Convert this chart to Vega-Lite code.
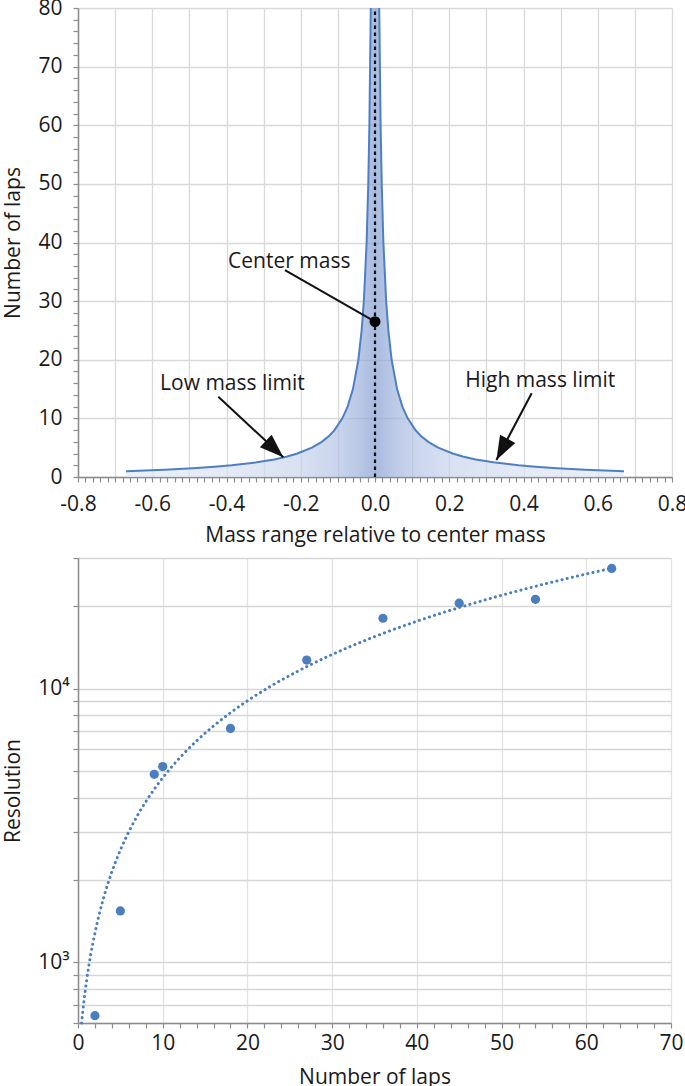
{
  "$schema": "https://vega.github.io/schema/vega-lite/v6.json",
  "padding": {"left": 2, "top": -3, "right": 0, "bottom": 0},
  "background": "white",
  "spacing": 2,
  "config": {
    "view": {"stroke": null},
    "font": "Open Sans",
    "axis": {
      "labelFont": "Open Sans",
      "titleFont": "Open Sans",
      "labelFontSize": 21,
      "titleFontSize": 21,
      "titleFontWeight": "normal",
      "labelColor": "#1a1a1a",
      "titleColor": "#1a1a1a",
      "domainColor": "#8c8c8c",
      "domainWidth": 1.5,
      "tickColor": "#8c8c8c",
      "tickWidth": 1.2,
      "tickSize": 5,
      "tickCount": 200,
      "gridColor": "#d9d9d9",
      "gridWidth": 1.3,
      "labelOverlap": false,
      "labelFlush": false
    },
    "text": {"font": "Open Sans", "fontSize": 21, "color": "#1a1a1a"}
  },
  "datasets": {
    "curve": [
      {"m": -0.6706, "laps": 1}, {"m": -0.5665, "laps": 1.25}, {"m": -0.4903, "laps": 1.5},
      {"m": -0.4322, "laps": 1.75}, {"m": -0.3864, "laps": 2}, {"m": -0.3189, "laps": 2.5},
      {"m": -0.2714, "laps": 3}, {"m": -0.2363, "laps": 3.5}, {"m": -0.2092, "laps": 4},
      {"m": -0.1701, "laps": 5}, {"m": -0.1434, "laps": 6}, {"m": -0.1239, "laps": 7},
      {"m": -0.1091, "laps": 8}, {"m": -0.088, "laps": 10}, {"m": -0.0738, "laps": 12},
      {"m": -0.0594, "laps": 15}, {"m": -0.0448, "laps": 20}, {"m": -0.036, "laps": 25},
      {"m": -0.03, "laps": 30}, {"m": -0.0226, "laps": 40}, {"m": -0.0181, "laps": 50},
      {"m": -0.0151, "laps": 60}, {"m": -0.01135, "laps": 80}, {"m": -0.00909, "laps": 100},
      {"m": -0.00607, "laps": 150},
      {"m": 0.00607, "laps": 150}, {"m": 0.00909, "laps": 100}, {"m": 0.01135, "laps": 80},
      {"m": 0.0151, "laps": 60}, {"m": 0.0181, "laps": 50}, {"m": 0.0226, "laps": 40},
      {"m": 0.03, "laps": 30}, {"m": 0.036, "laps": 25}, {"m": 0.0448, "laps": 20},
      {"m": 0.0594, "laps": 15}, {"m": 0.0738, "laps": 12}, {"m": 0.088, "laps": 10},
      {"m": 0.1091, "laps": 8}, {"m": 0.1239, "laps": 7}, {"m": 0.1434, "laps": 6},
      {"m": 0.1701, "laps": 5}, {"m": 0.2092, "laps": 4}, {"m": 0.2363, "laps": 3.5},
      {"m": 0.2714, "laps": 3}, {"m": 0.3189, "laps": 2.5}, {"m": 0.3864, "laps": 2},
      {"m": 0.4322, "laps": 1.75}, {"m": 0.4903, "laps": 1.5}, {"m": 0.5665, "laps": 1.25},
      {"m": 0.6706, "laps": 1}
    ],
    "arrows": [
      {"name": "Center mass", "m": -0.2426, "laps": 35.3, "m2": 0, "laps2": 26.5},
      {"name": "Low mass limit", "m": -0.422, "laps": 13.7, "m2": -0.247, "laps2": 3.36},
      {"name": "High mass limit", "m": 0.422, "laps": 14.3, "m2": 0.327, "laps2": 2.9}
    ],
    "labels": [
      {"name": "Center mass", "m": -0.231, "laps": 36.7},
      {"name": "Low mass limit", "m": -0.384, "laps": 15.9},
      {"name": "High mass limit", "m": 0.445, "laps": 16.3}
    ],
    "measured": [
      {"laps": 2, "res": 638}, {"laps": 5, "res": 1540}, {"laps": 9, "res": 4860},
      {"laps": 10, "res": 5190}, {"laps": 18, "res": 7150}, {"laps": 27, "res": 12710},
      {"laps": 36, "res": 18070}, {"laps": 45, "res": 20520}, {"laps": 54, "res": 21190},
      {"laps": 63, "res": 27480}
    ],
    "trend": [
      {"laps": 0.42, "res": 600}, {"laps": 0.7, "res": 720}, {"laps": 1.0, "res": 850},
      {"laps": 1.5, "res": 1065}, {"laps": 2.0, "res": 1280}, {"laps": 2.5, "res": 1495},
      {"laps": 3.0, "res": 1710}, {"laps": 3.5, "res": 1925}, {"laps": 4.0, "res": 2140},
      {"laps": 5.0, "res": 2570}, {"laps": 6.0, "res": 3000}, {"laps": 7.0, "res": 3430},
      {"laps": 8.0, "res": 3860}, {"laps": 9.0, "res": 4290}, {"laps": 10.0, "res": 4720},
      {"laps": 12.0, "res": 5580}, {"laps": 14.0, "res": 6440}, {"laps": 16.0, "res": 7300},
      {"laps": 18.0, "res": 8160}, {"laps": 20.0, "res": 9020}, {"laps": 23.0, "res": 10310},
      {"laps": 26.0, "res": 11600}, {"laps": 30.0, "res": 13320}, {"laps": 35.0, "res": 15470},
      {"laps": 40.0, "res": 17620}, {"laps": 45.0, "res": 19770}, {"laps": 50.0, "res": 21920},
      {"laps": 55.0, "res": 24070}, {"laps": 60.0, "res": 26220}, {"laps": 62.7, "res": 27380}
    ]
  },
  "vconcat": [
    {
      "width": 594,
      "height": 469,
      "layer": [
        {
          "data": {"name": "curve"},
          "mark": {
            "type": "area",
            "clip": true,
            "color": {
              "gradient": "linear",
              "x1": 0, "x2": 1, "y1": 0, "y2": 0,
              "stops": [
                {"offset": 0, "color": "#e1e8f5"},
                {"offset": 0.2, "color": "#d9e1f2"},
                {"offset": 0.35, "color": "#c8d4ec"},
                {"offset": 0.425, "color": "#b1c2e4"},
                {"offset": 0.463, "color": "#9fb3dc"},
                {"offset": 0.485, "color": "#8ea6d6"},
                {"offset": 0.5, "color": "#859fd2"},
                {"offset": 0.515, "color": "#8ea6d6"},
                {"offset": 0.537, "color": "#9fb3dc"},
                {"offset": 0.575, "color": "#b1c2e4"},
                {"offset": 0.65, "color": "#c8d4ec"},
                {"offset": 0.8, "color": "#d9e1f2"},
                {"offset": 1, "color": "#e1e8f5"}
              ]
            },
            "line": {"color": "#4f7fc3", "strokeWidth": 2}
          },
          "encoding": {
            "x": {
              "field": "m",
              "type": "quantitative",
              "scale": {"domain": [-0.8, 0.8], "nice": false},
              "axis": {
                "title": "Mass range relative to center mass",
                "titlePadding": 10,
                "labelPadding": 11,
                "values": [-0.8,-0.78,-0.76,-0.74,-0.72,-0.7,-0.68,-0.66,-0.64,-0.62,-0.6,-0.58,-0.56,-0.54,-0.52,-0.5,-0.48,-0.46,-0.44,-0.42,-0.4,-0.38,-0.36,-0.34,-0.32,-0.3,-0.28,-0.26,-0.24,-0.22,-0.2,-0.18,-0.16,-0.14,-0.12,-0.1,-0.08,-0.06,-0.04,-0.02,0,0.02,0.04,0.06,0.08,0.1,0.12,0.14,0.16,0.18,0.2,0.22,0.24,0.26,0.28,0.3,0.32,0.34,0.36,0.38,0.4,0.42,0.44,0.46,0.48,0.5,0.52,0.54,0.56,0.58,0.6,0.62,0.64,0.66,0.68,0.7,0.72,0.74,0.76,0.78,0.8],
                "labelExpr": "abs(datum.value*5 - round(datum.value*5)) < 0.001 ? (datum.value < -0.001 ? '-' : '') + format(abs(datum.value), '.1f') : ''",
                "gridOpacity": {"condition": {"test": "abs(datum.value*10 - round(datum.value*10)) < 0.001", "value": 1}, "value": 0}
              }
            },
            "y": {
              "field": "laps",
              "type": "quantitative",
              "scale": {"domain": [0, 80], "nice": false},
              "axis": {
                "title": "Number of laps",
                "titlePadding": 14,
                "labelPadding": 11,
                "values": [0,2,4,6,8,10,12,14,16,18,20,22,24,26,28,30,32,34,36,38,40,42,44,46,48,50,52,54,56,58,60,62,64,66,68,70,72,74,76,78,80],
                "labelExpr": "datum.value % 10 == 0 ? datum.value : ''",
                "gridOpacity": {"condition": {"test": "datum.value % 10 == 0", "value": 1}, "value": 0}
              }
            }
          }
        },
        {
          "data": {"values": [{"m": 0, "laps": 0, "laps2": 80}]},
          "mark": {"type": "rule", "color": "#111111", "strokeWidth": 2.2, "strokeDash": [3.5, 3.5]},
          "encoding": {
            "x": {"field": "m", "type": "quantitative"},
            "y": {"field": "laps", "type": "quantitative"},
            "y2": {"field": "laps2"}
          }
        },
        {
          "data": {"name": "arrows"},
          "mark": {"type": "rule", "color": "#111111", "strokeWidth": 2},
          "encoding": {
            "x": {"field": "m", "type": "quantitative"},
            "y": {"field": "laps", "type": "quantitative"},
            "x2": {"field": "m2"},
            "y2": {"field": "laps2"}
          }
        },
        {
          "data": {"name": "arrows"},
          "transform": [{"filter": "datum.name == 'Low mass limit'"}],
          "mark": {"type": "point", "shape": "M0,0L0.36,1L-0.36,1Z", "filled": true, "color": "#111111", "opacity": 1, "size": 2300, "angle": 133},
          "encoding": {
            "x": {"field": "m2", "type": "quantitative"},
            "y": {"field": "laps2", "type": "quantitative"}
          }
        },
        {
          "data": {"name": "arrows"},
          "transform": [{"filter": "datum.name == 'High mass limit'"}],
          "mark": {"type": "point", "shape": "M0,0L0.36,1L-0.36,1Z", "filled": true, "color": "#111111", "opacity": 1, "size": 2300, "angle": 208},
          "encoding": {
            "x": {"field": "m2", "type": "quantitative"},
            "y": {"field": "laps2", "type": "quantitative"}
          }
        },
        {
          "data": {"values": [{"m": 0, "laps": 26.5}]},
          "mark": {"type": "point", "shape": "circle", "filled": true, "color": "#000000", "opacity": 1, "size": 120},
          "encoding": {
            "x": {"field": "m", "type": "quantitative"},
            "y": {"field": "laps", "type": "quantitative"}
          }
        },
        {
          "data": {"name": "labels"},
          "mark": {"type": "text", "align": "center", "baseline": "middle"},
          "encoding": {
            "x": {"field": "m", "type": "quantitative"},
            "y": {"field": "laps", "type": "quantitative"},
            "text": {"field": "name"}
          }
        }
      ]
    },
    {
      "width": 593,
      "height": 465,
      "layer": [
        {
          "data": {"name": "trend"},
          "mark": {"type": "line", "color": "#4a7ebf", "strokeWidth": 3, "strokeDash": [0.1, 5.2], "strokeCap": "round", "interpolate": "monotone"},
          "encoding": {
            "x": {
              "field": "laps",
              "type": "quantitative",
              "scale": {"domain": [0, 70], "nice": false},
              "axis": {
                "title": "Number of laps",
                "titlePadding": 13,
                "labelPadding": 4,
                "values": [0,2,4,6,8,10,12,14,16,18,20,22,24,26,28,30,32,34,36,38,40,42,44,46,48,50,52,54,56,58,60,62,64,66,68,70],
                "labelExpr": "datum.value % 10 == 0 ? datum.value : ''",
                "gridColor": "#e3e3e3",
                "gridOpacity": {"condition": {"test": "datum.value % 10 == 0", "value": 1}, "value": 0}
              }
            },
            "y": {
              "field": "res",
              "type": "quantitative",
              "scale": {"type": "log", "domain": [600, 30000], "nice": false},
              "axis": {
                "title": "Resolution",
                "titlePadding": 14,
                "labelPadding": 4,
                "values": [600,700,800,900,1000,2000,3000,4000,5000,6000,7000,8000,9000,10000,20000,30000],
                "labelExpr": "datum.value == 1000 ? '10³' : (datum.value == 10000 ? '10⁴' : '')",
                "gridColor": "#d6d6d6"
              }
            }
          }
        },
        {
          "data": {"name": "measured"},
          "mark": {"type": "point", "shape": "circle", "filled": true, "color": "#4a7ebf", "opacity": 1, "size": 85},
          "encoding": {
            "x": {"field": "laps", "type": "quantitative"},
            "y": {"field": "res", "type": "quantitative"}
          }
        }
      ]
    }
  ]
}
